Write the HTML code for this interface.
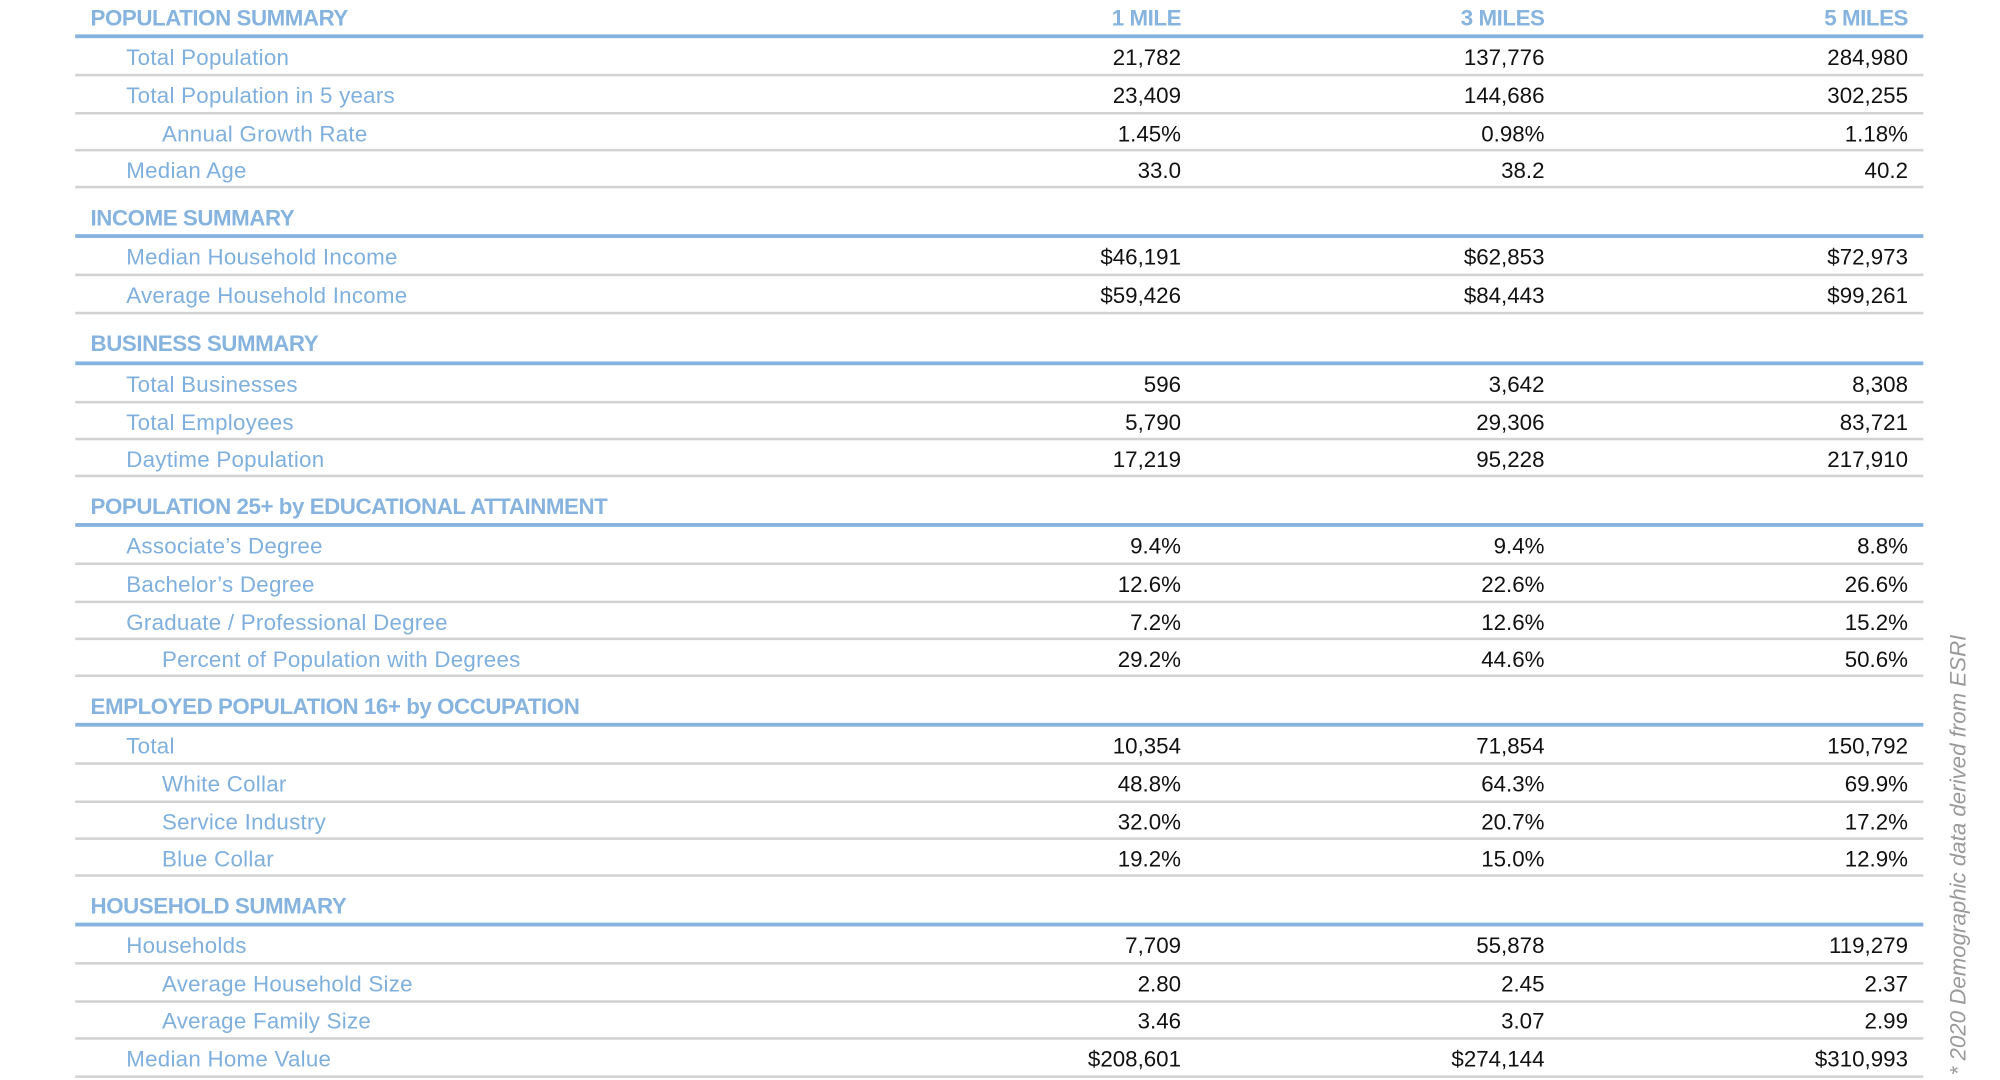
<!DOCTYPE html>
<html><head><meta charset="utf-8"><style>
html,body{margin:0;padding:0;background:#fff;}
body{width:2000px;height:1080px;overflow:hidden;position:relative;}
#w{position:absolute;left:0;top:0;width:1568px;height:849px;transform-origin:0 0;transform:scale(1.2754,1.2726);font-family:"Liberation Sans Narrow","Liberation Sans",sans-serif;}
.h{position:absolute;left:71px;font-weight:bold;color:#86b4de;font-size:17.5px;line-height:20px;letter-spacing:-0.35px;white-space:nowrap;}
.hc{position:absolute;font-weight:bold;color:#86b4de;font-size:17.5px;line-height:20px;text-align:right;width:200px;letter-spacing:-0.35px;}
.bl{position:absolute;left:59px;width:1449px;height:2.5px;background:#86b4de;}
.gl{position:absolute;left:59px;width:1449px;height:2px;background:#d2d2d2;}
.r{position:absolute;left:0;width:1568px;height:20px;line-height:20px;font-size:17.5px;margin-top:1px;}
.r .l{position:absolute;color:#7fb0dd;letter-spacing:0.2px;white-space:nowrap;}
.r .v{position:absolute;width:200px;text-align:right;color:#111;}
.a{left:99px}.b{left:127px}
.c1{left:726px}.c2{left:1011px}.c3{left:1296px}
#fn{position:absolute;left:1535px;top:845px;transform-origin:0 0;transform:rotate(-90deg) translate(0,-10px);white-space:nowrap;font-family:"Liberation Sans",sans-serif;font-style:italic;color:#9a9a9a;font-size:17.5px;line-height:20px;}
</style></head><body><div id="w">
<div class="h" style="top:4px">POPULATION SUMMARY</div>
<div class="hc" style="top:4px;left:726px">1 MILE</div>
<div class="hc" style="top:4px;left:1011px">3 MILES</div>
<div class="hc" style="top:4px;left:1296px">5 MILES</div>
<div class="bl" style="top:27px"></div>
<div class="r" style="top:34px"><span class="l a">Total Population</span><span class="v c1">21,782</span><span class="v c2">137,776</span><span class="v c3">284,980</span></div>
<div class="gl" style="top:58px"></div>
<div class="r" style="top:64px"><span class="l a">Total Population in 5 years</span><span class="v c1">23,409</span><span class="v c2">144,686</span><span class="v c3">302,255</span></div>
<div class="gl" style="top:88px"></div>
<div class="r" style="top:94px"><span class="l b">Annual Growth Rate</span><span class="v c1">1.45%</span><span class="v c2">0.98%</span><span class="v c3">1.18%</span></div>
<div class="gl" style="top:117px"></div>
<div class="r" style="top:123px"><span class="l a">Median Age</span><span class="v c1">33.0</span><span class="v c2">38.2</span><span class="v c3">40.2</span></div>
<div class="gl" style="top:146px"></div>

<div class="h" style="top:161px">INCOME SUMMARY</div>
<div class="bl" style="top:184px"></div>
<div class="r" style="top:191px"><span class="l a">Median Household Income</span><span class="v c1">$46,191</span><span class="v c2">$62,853</span><span class="v c3">$72,973</span></div>
<div class="gl" style="top:215px"></div>
<div class="r" style="top:221px"><span class="l a">Average Household Income</span><span class="v c1">$59,426</span><span class="v c2">$84,443</span><span class="v c3">$99,261</span></div>
<div class="gl" style="top:245px"></div>

<div class="h" style="top:260px">BUSINESS SUMMARY</div>
<div class="bl" style="top:284px"></div>
<div class="r" style="top:291px"><span class="l a">Total Businesses</span><span class="v c1">596</span><span class="v c2">3,642</span><span class="v c3">8,308</span></div>
<div class="gl" style="top:315px"></div>
<div class="r" style="top:321px"><span class="l a">Total Employees</span><span class="v c1">5,790</span><span class="v c2">29,306</span><span class="v c3">83,721</span></div>
<div class="gl" style="top:344px"></div>
<div class="r" style="top:350px"><span class="l a">Daytime Population</span><span class="v c1">17,219</span><span class="v c2">95,228</span><span class="v c3">217,910</span></div>
<div class="gl" style="top:373px"></div>

<div class="h" style="top:388px">POPULATION 25+ by EDUCATIONAL ATTAINMENT</div>
<div class="bl" style="top:411px"></div>
<div class="r" style="top:418px"><span class="l a">Associate’s Degree</span><span class="v c1">9.4%</span><span class="v c2">9.4%</span><span class="v c3">8.8%</span></div>
<div class="gl" style="top:442px"></div>
<div class="r" style="top:448px"><span class="l a">Bachelor’s Degree</span><span class="v c1">12.6%</span><span class="v c2">22.6%</span><span class="v c3">26.6%</span></div>
<div class="gl" style="top:472px"></div>
<div class="r" style="top:478px"><span class="l a">Graduate / Professional Degree</span><span class="v c1">7.2%</span><span class="v c2">12.6%</span><span class="v c3">15.2%</span></div>
<div class="gl" style="top:501px"></div>
<div class="r" style="top:507px"><span class="l b">Percent of Population with Degrees</span><span class="v c1">29.2%</span><span class="v c2">44.6%</span><span class="v c3">50.6%</span></div>
<div class="gl" style="top:530px"></div>

<div class="h" style="top:545px">EMPLOYED POPULATION 16+ by OCCUPATION</div>
<div class="bl" style="top:568px"></div>
<div class="r" style="top:575px"><span class="l a">Total</span><span class="v c1">10,354</span><span class="v c2">71,854</span><span class="v c3">150,792</span></div>
<div class="gl" style="top:599px"></div>
<div class="r" style="top:605px"><span class="l b">White Collar</span><span class="v c1">48.8%</span><span class="v c2">64.3%</span><span class="v c3">69.9%</span></div>
<div class="gl" style="top:629px"></div>
<div class="r" style="top:635px"><span class="l b">Service Industry</span><span class="v c1">32.0%</span><span class="v c2">20.7%</span><span class="v c3">17.2%</span></div>
<div class="gl" style="top:658px"></div>
<div class="r" style="top:664px"><span class="l b">Blue Collar</span><span class="v c1">19.2%</span><span class="v c2">15.0%</span><span class="v c3">12.9%</span></div>
<div class="gl" style="top:687px"></div>

<div class="h" style="top:702px">HOUSEHOLD SUMMARY</div>
<div class="bl" style="top:725px"></div>
<div class="r" style="top:732px"><span class="l a">Households</span><span class="v c1">7,709</span><span class="v c2">55,878</span><span class="v c3">119,279</span></div>
<div class="gl" style="top:756px"></div>
<div class="r" style="top:762px"><span class="l b">Average Household Size</span><span class="v c1">2.80</span><span class="v c2">2.45</span><span class="v c3">2.37</span></div>
<div class="gl" style="top:786px"></div>
<div class="r" style="top:791px"><span class="l b">Average Family Size</span><span class="v c1">3.46</span><span class="v c2">3.07</span><span class="v c3">2.99</span></div>
<div class="gl" style="top:815px"></div>
<div class="r" style="top:821px"><span class="l a">Median Home Value</span><span class="v c1">$208,601</span><span class="v c2">$274,144</span><span class="v c3">$310,993</span></div>
<div class="gl" style="top:845px"></div>

<div id="fn">* 2020 Demographic data derived from ESRI</div>
</div></body></html>
